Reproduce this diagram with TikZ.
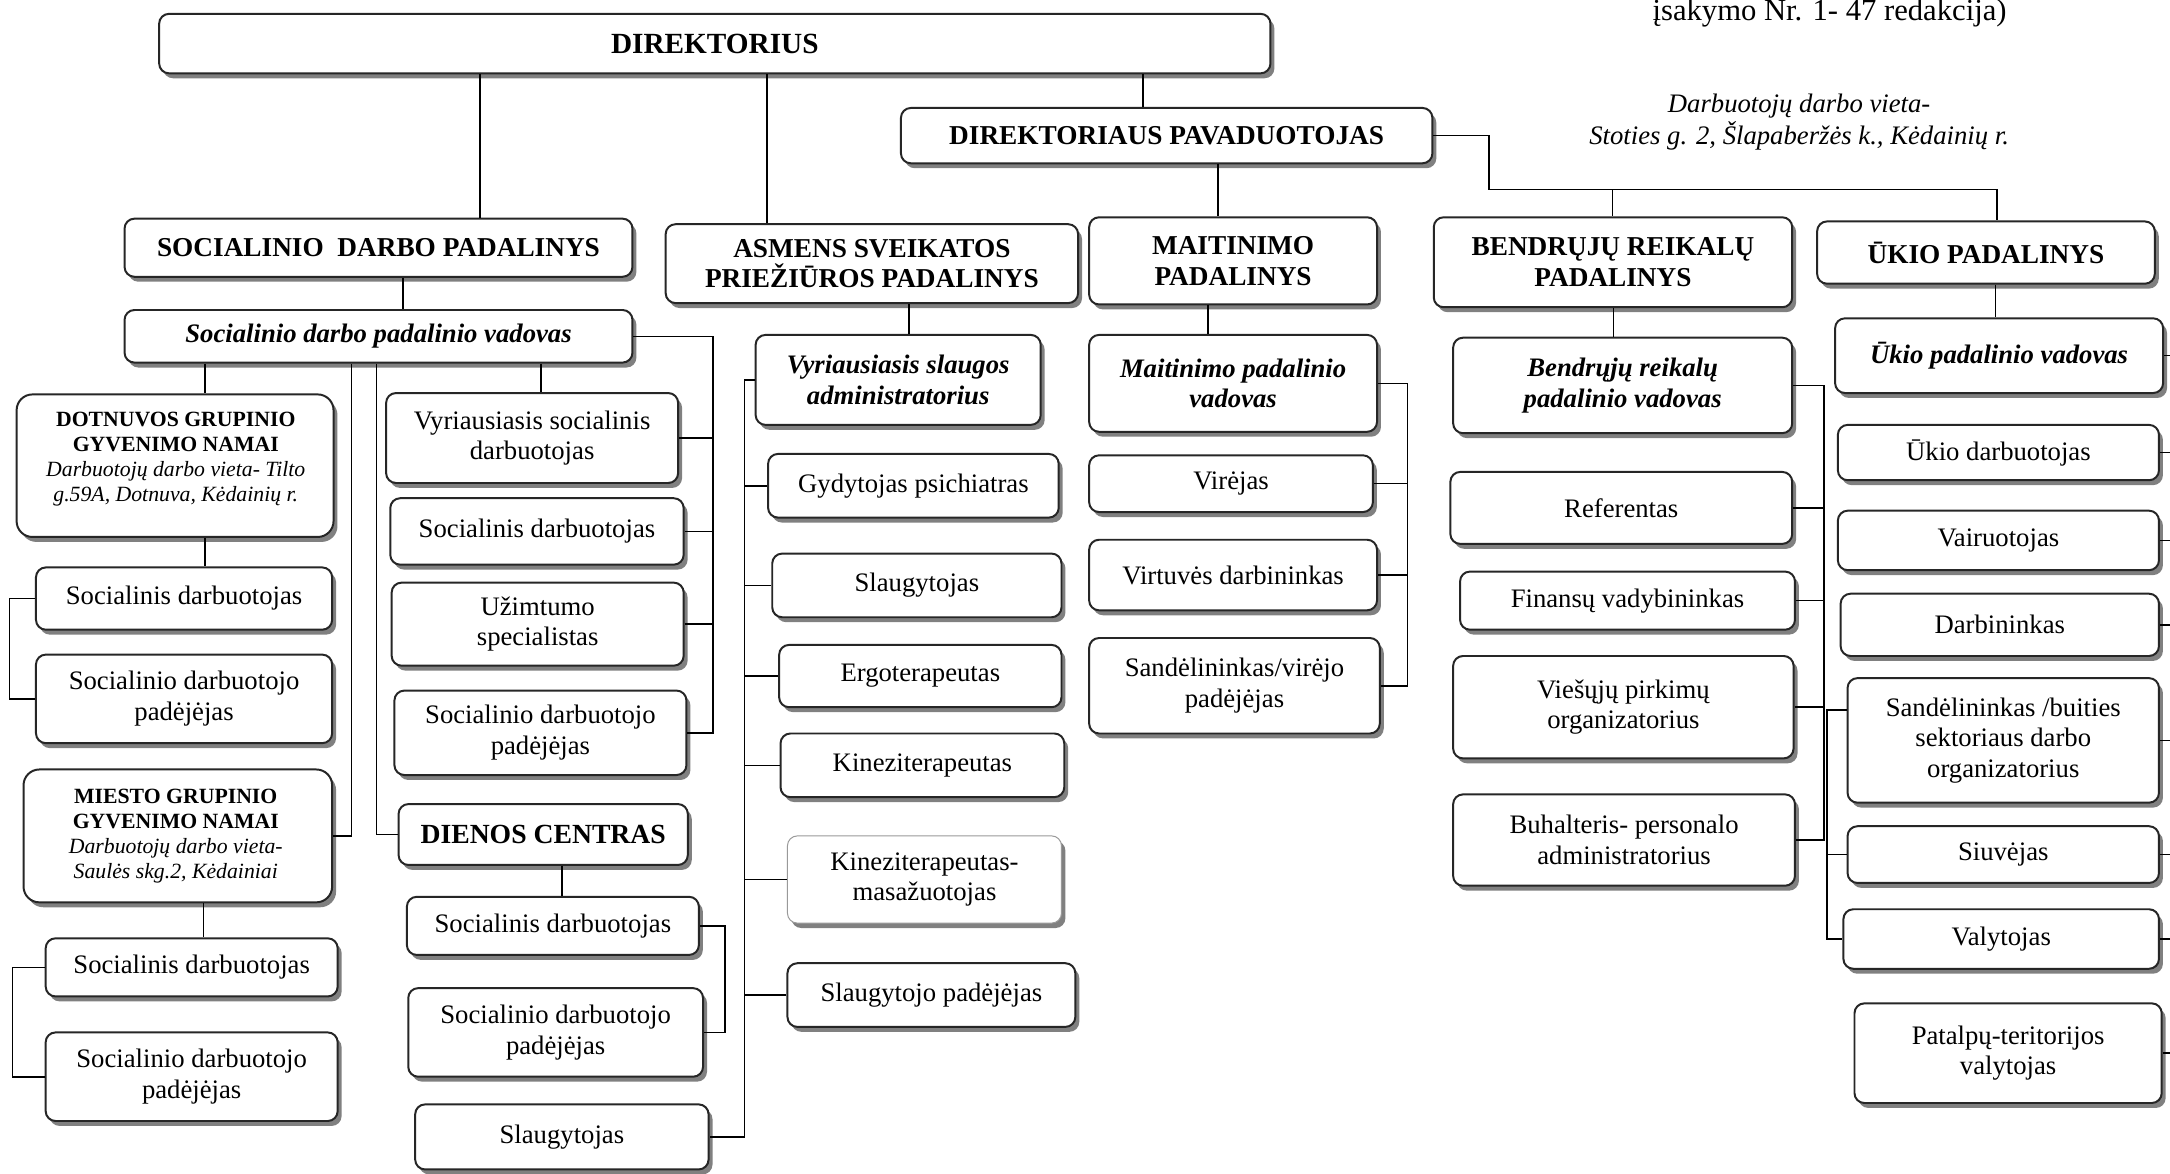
\documentclass[tikz,border=0pt]{standalone}
\usepackage{fontspec}
\setmainfont{Liberation Serif}
\usetikzlibrary{shadows}
\newcommand\bx[7][]{%
  \node[box,#1,minimum width={(#4-#2)*0.7pt},minimum height={(#5-#3)*0.7pt}] (#6) at ({(#2+#4)/2},{(#3+#5)/2}) {#7};}
\begin{document}
\begin{tikzpicture}[x=0.7pt,y=-0.7pt,
  box/.style={draw=black!85, line width=1pt, rounded corners=5pt, fill=white, align=center, inner sep=1pt,
    font=\fontsize{13.5}{15.5}\selectfont,
    drop shadow={shadow xshift=2pt, shadow yshift=-2.5pt, fill=black!55, opacity=0.9}},
  hd/.style={font=\fontsize{13.8}{15.5}\selectfont\bfseries},
  ld/.style={font=\fontsize{13.5}{15.5}\selectfont\bfseries\itshape},
  big/.style={rounded corners=8pt},
  faint/.style={draw=black!40, line width=0.5pt, drop shadow={opacity=0}},
  ln/.style={line width=0.8pt, draw=black},
  note/.style={font=\fontsize{13.5}{16}\selectfont\itshape, align=center, inner sep=0pt}]
\fill[white] (0,0) rectangle (1568,848);
\useasboundingbox (0,0) rectangle (1568,848);

% header texts
\node[font=\fontsize{15.5}{17}\selectfont, anchor=base, inner sep=0pt] (hdr) at (1322,15) {įsakymo Nr. 1- 47 redakcija)};
\node[note] (loc) at (1300,88) {Darbuotojų darbo vieta-\\Stoties g. 2, Šlapaberžės k., Kėdainių r.};

% top level
\bx[hd, font=\fontsize{14.8}{16}\selectfont\bfseries]{115}{10}{918}{53}{dir}{DIREKTORIUS}
\bx[hd]{651}{78}{1035}{118}{pav}{DIREKTORIAUS PAVADUOTOJAS}
\bx[hd]{90}{158}{457}{200}{soc}{SOCIALINIO\ \ DARBO PADALINYS}
\bx[hd]{481}{162}{779}{219}{asm}{ASMENS SVEIKATOS\\PRIEŽIŪROS PADALINYS}
\bx[hd]{787}{157}{995}{220}{mai}{MAITINIMO\\PADALINYS}
\bx[hd]{1036}{157}{1295}{222}{ben}{BENDRŲJŲ REIKALŲ\\PADALINYS}
\bx[hd]{1313}{160}{1557}{205}{uki}{ŪKIO PADALINYS}

% leaders
\bx[ld]{90}{224}{457}{262}{sdv}{Socialinio darbo padalinio vadovas}
\bx[ld]{546}{242}{752}{307}{vsa}{Vyriausiasis slaugos\\administratorius}
\bx[ld]{787}{242}{995}{312}{mpv}{Maitinimo padalinio\\vadovas}
\bx[ld]{1050}{244}{1295}{313}{brv}{Bendrųjų reikalų\\padalinio vadovas}
\bx[ld]{1326}{230}{1563}{284}{upv}{Ūkio padalinio vadovas}

% social work
\bx[big]{12}{285}{241}{388}{dot}{}
\node[font=\fontsize{11}{12.6}\selectfont, align=center, inner sep=0pt] (dotT) at (127,332)
  {\textbf{DOTNUVOS GRUPINIO}\\\textbf{GYVENIMO NAMAI}\\\textit{Darbuotojų darbo vieta- Tilto}\\\textit{g.59A, Dotnuva, Kėdainių r.}};
\bx{26}{410}{240}{455}{sd1}{Socialinis darbuotojas}
\bx{26}{473}{240}{537}{sp1}{Socialinio darbuotojo\\padėjėjas}
\bx[big]{17}{556}{240}{652}{mie}{}
\node[font=\fontsize{11}{12.6}\selectfont, align=center, inner sep=0pt] (mieT) at (127,604)
  {\textbf{MIESTO GRUPINIO}\\\textbf{GYVENIMO NAMAI}\\\textit{Darbuotojų darbo vieta-}\\\textit{Saulės skg.2, Kėdainiai}};
\bx{33}{678}{244}{720}{sd2}{Socialinis darbuotojas}
\bx{33}{746}{244}{810}{sp2}{Socialinio darbuotojo\\padėjėjas}
\bx{279}{284}{490}{349}{vyr}{Vyriausiasis socialinis\\darbuotojas}
\bx{282}{360}{494}{408}{sd3}{Socialinis darbuotojas}
\bx{283}{421}{494}{481}{uzi}{Užimtumo\\specialistas}
\bx{285}{499}{496}{560}{sp3}{Socialinio darbuotojo\\padėjėjas}
\bx[hd, font=\fontsize{14}{15.5}\selectfont\bfseries]{288}{581}{497}{625}{die}{DIENOS CENTRAS}
\bx{294}{648}{505}{690}{sd4}{Socialinis darbuotojas}
\bx{295}{714}{508}{778}{sp4}{Socialinio darbuotojo\\padėjėjas}
\bx{300}{798}{512}{845}{sl1}{Slaugytojas}

% health
\bx{555}{328}{765}{374}{gyd}{Gydytojas psichiatras}
\bx{558}{400}{767}{446}{sl2}{Slaugytojas}
\bx{563}{466}{767}{511}{erg}{Ergoterapeutas}
\bx{564}{530}{769}{576}{kin}{Kineziterapeutas}
\bx[faint]{569}{604}{767}{667}{kim}{Kineziterapeutas-\\masažuotojas}
\bx{569}{696}{777}{742}{slp}{Slaugytojo padėjėjas}

% catering
\bx{787}{329}{992}{370}{vir}{Virėjas}
\bx{787}{390}{995}{441}{vdb}{Virtuvės darbininkas}
\bx{787}{461}{997}{530}{san}{Sandėlininkas/virėjo\\padėjėjas}

% general affairs
\bx{1048}{341}{1295}{393}{ref}{Referentas}
\bx{1055}{413}{1297}{455}{fin}{Finansų vadybininkas}
\bx{1050}{474}{1296}{548}{vpo}{Viešųjų pirkimų\\organizatorius}
\bx{1050}{574}{1297}{640}{buh}{Buhalteris- personalo\\administratorius}

% household
\bx{1328}{307}{1560}{347}{udb}{Ūkio darbuotojas}
\bx{1328}{369}{1560}{412}{vai}{Vairuotojas}
\bx{1330}{429}{1560}{474}{dar}{Darbininkas}
\bx{1335}{490}{1560}{580}{sbo}{Sandėlininkas /buities\\sektoriaus darbo\\organizatorius}
\bx{1335}{597}{1560}{638}{siu}{Siuvėjas}
\bx{1332}{657}{1560}{700}{val}{Valytojas}
\bx{1340}{725}{1562}{797}{pat}{Patalpų-teritorijos\\valytojas}

% helper coordinates
\foreach \xx in {7,9,147,148,254,272,291,347,391,406,515,524,538,554,657,826,873,880,1017,1076,1165,1166,1318,1320,1442,1443,1590}
  {\coordinate (X\xx) at (\xx,0);}
\coordinate (Y137) at (0,137);
\coordinate (Y513) at (0,513);

\begin{scope}[ln]
% top level
\draw (dir.south -| X347) -- (soc.north -| X347);
\draw (dir.south -| X554) -- (asm.north -| X554);
\draw (dir.south -| X826) -- (pav.north -| X826);
\draw (pav.south -| X880) -- (mai.north -| X880);
\draw (pav.east) -| (X1076 |- Y137) -- (X1443 |- Y137) -- (uki.north -| X1443);
\draw (X1165 |- Y137) -- (ben.north -| X1165);
% social
\draw (soc.south -| X291) -- (sdv.north -| X291);
\draw (sdv.south -| X148) -- (dot.north -| X148);
\draw (sdv.south -| X391) -- (vyr.north -| X391);
\draw (sdv.south -| X254) |- (mie.east);
\draw (sdv.south -| X272) |- (die.west);
\draw (sdv.east) -| (X515 |- sp3.east) -- (sp3.east);
\foreach \n in {vyr,sd3,uzi} \draw (\n.east) -- (\n.east -| X515);
\draw (dot.south -| X148) -- (sd1.north -| X148);
\draw (sd1.west) -| (X7 |- sp1.west) -- (sp1.west);
\draw (mie.south -| X147) -- (sd2.north -| X147);
\draw (sd2.west) -| (X9 |- sp2.west) -- (sp2.west);
\draw (die.south -| X406) -- (sd4.north -| X406);
\draw (sd4.east) -| (X524 |- sp4.east) -- (sp4.east);
% health
\draw (asm.south -| X657) -- (vsa.north -| X657);
\draw (vsa.west) -| (X538 |- sl1.east) -- (sl1.east);
\foreach \n in {gyd,sl2,erg,kin,kim,slp} \draw (\n.west) -- (\n.west -| X538);
% catering
\draw (mai.south -| X873) -- (mpv.north -| X873);
\draw (mpv.east) -| (X1017 |- san.east) -- (san.east);
\foreach \n in {vir,vdb} \draw (\n.east) -- (\n.east -| X1017);
% general affairs
\draw (ben.south -| X1166) -- (brv.north -| X1166);
\draw (brv.east) -| (X1318 |- buh.east) -- (buh.east);
\foreach \n in {ref,fin,vpo} \draw (\n.east) -- (\n.east -| X1318);
% household
\draw (uki.south -| X1442) -- (upv.north -| X1442);
\foreach \n in {upv,udb,vai,dar,sbo,siu,val,pat} \draw (\n.east) -- (\n.east -| X1590);
\draw (sbo.west |- Y513) -- (X1320 |- Y513) |- (val.west);
\draw (siu.west) -- (siu.west -| X1320);
\end{scope}
\end{tikzpicture}
\end{document}
